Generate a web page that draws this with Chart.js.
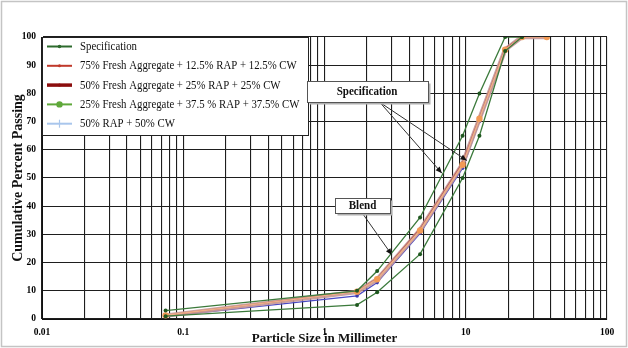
<!DOCTYPE html>
<html>
<head>
<meta charset="utf-8">
<script src="https://cdn.jsdelivr.net/npm/chart.js"></script>
<style>
  html, body { margin: 0; padding: 0; background: #fff; }
  canvas { display: block; }
</style>
</head>
<body>
<canvas id="grafico" width="628" height="348"></canvas>
<script>
// =============================================
// Gradation chart – blends vs specification
// =============================================

// sieve sizes (mm)
const peneiras = [0.075, 1.7, 2.36, 4.75, 9.5, 12.5, 19, 25, 37.5];
const peneirasSpec = [0.075, 1.7, 2.36, 4.75, 9.5, 12.5, 19, 25];

// specification band (% passing)
const specSuperior = [3, 10, 17, 36, 65, 80, 100, 100];
const specInferior = [1, 5, 9.5, 23, 50, 65, 95, 100];

// blends (% passing)
const blend75 = [1.3, 9.8, 14.4, 32, 55.5, 71.5, 96, 100, 100];
const blend50 = [1.2, 9.6, 14.0, 31.6, 55, 71, 95.5, 100, 100];
const blend25 = [1.3, 9.7, 14.1, 31.4, 54.7, 71, 95.5, 100, 100];
const blendRap = [0.9, 8.2, 12.9, 30.4, 53.5, 70, 95, 100, 100];

const seriesNomes = [
  'Specification',
  '75% Fresh Aggregate + 12.5% RAP + 12.5% CW',
  '50% Fresh Aggregate + 25% RAP + 25% CW',
  '25% Fresh Aggregate + 37.5 % RAP + 37.5% CW',
  '50% RAP + 50% CW'
];

// axis labels
const decadas = [0.01, 0.1, 1, 10, 100];
const ticksY = [0, 10, 20, 30, 40, 50, 60, 70, 80, 90, 100];

const FONTE = "'Liberation Serif', 'Times New Roman', serif";

const pontos = (xs, ys) => ys.map((v, i) => ({ x: xs[i], y: v }));

// grid lines 1..9 per decade
const ticksLog = [];
decadas.slice(0, -1).forEach(d => {
  for (let m = 1; m <= 9; m++) ticksLog.push(m * d);
});
ticksLog.push(decadas[decadas.length - 1]);

const ehDecada = (v) => decadas.some(d => Math.abs(d - v) < d * 1e-6);

// fundo branco + moldura cinza
const fundoPlugin = {
  id: 'fundo',
  beforeDraw(chart) {
    const { ctx, width, height } = chart;
    ctx.save();
    ctx.fillStyle = '#fff';
    ctx.fillRect(0, 0, width, height);
    ctx.strokeStyle = '#c4c4c4';
    ctx.lineWidth = 1.5;
    ctx.strokeRect(1.5, 1.5, width - 3, height - 3);
    ctx.restore();
  }
};

function textoEstreito(ctx, txt, x, y, escala) {
  ctx.save();
  ctx.translate(x, y);
  ctx.scale(escala, 1);
  ctx.fillText(txt, 0, 0);
  ctx.restore();
}

// legend drawn inside the plot, over the grid
const legendaItens = [
  { cor: '#2d6a2d', largura: 2, marcador: 'ponto', r: 1.8 },
  { cor: '#c0392b', largura: 2, marcador: 'ponto', r: 1.5 },
  { cor: '#8b0d0d', largura: 3.5, marcador: 'ponto', r: 1.5 },
  { cor: '#5fa83a', largura: 2, marcador: 'ponto', r: 3.2 },
  { cor: '#a9c6ec', largura: 2, marcador: 'cruz', r: 4 }
];

const legendaPlugin = {
  id: 'legendaInterna',
  afterDatasetsDraw(chart) {
    const { ctx, chartArea } = chart;
    const x0 = chartArea.left, y0 = chartArea.top;
    ctx.save();
    ctx.fillStyle = '#fff';
    ctx.fillRect(x0, y0, 266, 98);
    ctx.strokeStyle = '#222';
    ctx.lineWidth = 1;
    ctx.strokeRect(x0 + 0.5, y0 + 0.5, 266, 98);
    legendaItens.forEach((it, i) => {
      const y = y0 + 9.5 + i * 19.3;
      ctx.strokeStyle = it.cor;
      ctx.lineWidth = it.largura;
      ctx.beginPath();
      ctx.moveTo(x0 + 5, y);
      ctx.lineTo(x0 + 30, y);
      ctx.stroke();
      ctx.fillStyle = it.cor;
      if (it.marcador === 'cruz') {
        ctx.lineWidth = 1.2;
        ctx.beginPath();
        ctx.moveTo(x0 + 17.5, y - it.r);
        ctx.lineTo(x0 + 17.5, y + it.r);
        ctx.stroke();
      } else {
        ctx.beginPath();
        ctx.arc(x0 + 17.5, y, it.r, 0, Math.PI * 2);
        ctx.fill();
      }
      ctx.fillStyle = '#111';
      ctx.font = `13.5px ${FONTE}`;
      ctx.textBaseline = 'middle';
      ctx.textAlign = 'left';
      textoEstreito(ctx, seriesNomes[i], x0 + 38, y, 0.8);
    });
    ctx.restore();
  }
};

// annotation boxes with arrows (positions in data units)
const anotacoes = [
  { texto: 'Specification', x: 2.0, y: 80.8, w: 121, h: 21, saida: 13, setas: [[6.78, 51.7], [10.18, 56.2]] },
  { texto: 'Blend', x: 1.86, y: 40.2, w: 55, h: 15, saida: 0, setas: [[3.0, 22.7]] }
];

function seta(ctx, x1, y1, x2, y2) {
  ctx.beginPath();
  ctx.moveTo(x1, y1);
  ctx.lineTo(x2, y2);
  ctx.stroke();
  const ang = Math.atan2(y2 - y1, x2 - x1);
  ctx.beginPath();
  ctx.moveTo(x2, y2);
  ctx.lineTo(x2 - 7 * Math.cos(ang - 0.4), y2 - 7 * Math.sin(ang - 0.4));
  ctx.lineTo(x2 - 7 * Math.cos(ang + 0.4), y2 - 7 * Math.sin(ang + 0.4));
  ctx.closePath();
  ctx.fill();
}

const anotacaoPlugin = {
  id: 'anotacoes',
  afterDatasetsDraw(chart) {
    const { ctx, scales: { x, y } } = chart;
    ctx.save();
    anotacoes.forEach(a => {
      const cx = x.getPixelForValue(a.x);
      const cy = y.getPixelForValue(a.y);
      const bx = Math.round(cx - a.w / 2) + 0.5, by = Math.round(cy - a.h / 2) + 0.5;
      ctx.strokeStyle = '#333';
      ctx.fillStyle = '#111';
      ctx.lineWidth = 1;
      a.setas.forEach(([sx, sy]) => {
        seta(ctx, cx + a.saida, by + a.h, x.getPixelForValue(sx), y.getPixelForValue(sy));
      });
      ctx.fillStyle = '#b0b0b0';
      ctx.fillRect(bx + 2, by + 2, a.w, a.h);
      ctx.fillStyle = '#fff';
      ctx.fillRect(bx, by, a.w, a.h);
      ctx.strokeStyle = '#555';
      ctx.strokeRect(bx, by, a.w, a.h);
      ctx.fillStyle = '#111';
      ctx.font = `bold 13px ${FONTE}`;
      ctx.textAlign = 'center';
      ctx.textBaseline = 'middle';
      textoEstreito(ctx, a.texto, cx, cy + 0.5, 0.85);
    });
    ctx.restore();
  }
};

const fonteTick = { family: FONTE, size: 9.5, weight: 'bold' };
const grade = { color: '#1e1e1e', lineWidth: 1.1, drawTicks: false };

new Chart(document.getElementById('grafico'), {
  type: 'line',
  data: {
    datasets: [
      {
        label: seriesNomes[0],
        data: pontos(peneirasSpec, specSuperior),
        borderColor: '#3b7a3b',
        borderWidth: 1.3,
        pointRadius: 2,
        pointBackgroundColor: '#1f571f',
        pointBorderWidth: 0,
        order: 0
      },
      {
        label: seriesNomes[0] + ' (lower)',
        data: pontos(peneirasSpec, specInferior),
        borderColor: '#3b7a3b',
        borderWidth: 1.3,
        pointRadius: 2,
        pointBackgroundColor: '#1f571f',
        pointBorderWidth: 0,
        order: 0
      },
      {
        label: seriesNomes[1],
        data: pontos(peneiras, blend75),
        borderColor: '#b86060',
        borderWidth: 1.2,
        pointRadius: 1.5,
        pointBackgroundColor: '#b86060',
        pointBorderWidth: 0,
        order: 2
      },
      {
        label: seriesNomes[2],
        data: pontos(peneiras, blend50),
        borderColor: 'rgba(196,150,150,0.9)',
        borderWidth: 4.5,
        pointRadius: 0,
        order: 3
      },
      {
        label: seriesNomes[3],
        data: pontos(peneiras, blend25),
        borderColor: '#eeb088',
        borderWidth: 1.5,
        pointRadius: 3.2,
        pointBackgroundColor: '#f29a55',
        pointBorderWidth: 0,
        order: 1
      },
      {
        label: seriesNomes[4],
        data: pontos(peneiras, blendRap),
        borderColor: '#4a4ac4',
        borderWidth: 1.2,
        pointRadius: 1.8,
        pointBackgroundColor: '#3a3ab0',
        pointBorderWidth: 0,
        order: 4
      }
    ]
  },
  options: {
    responsive: false,
    animation: false,
    layout: { padding: { left: 0, right: 21, top: 37, bottom: 2 } },
    plugins: {
      legend: { display: false },
      tooltip: { enabled: false }
    },
    scales: {
      x: {
        type: 'logarithmic',
        min: decadas[0],
        max: decadas[decadas.length - 1],
        afterBuildTicks: (s) => { s.ticks = ticksLog.map(v => ({ value: v })); },
        afterFit: (s) => { s.height = 27; },
        ticks: {
          autoSkip: false,
          maxRotation: 0,
          padding: 8,
          color: '#000',
          font: fonteTick,
          callback: (v) => ehDecada(v) ? String(decadas.find(d => Math.abs(d - v) < d * 1e-6)) : ''
        },
        grid: grade,
        border: { color: '#111', width: 1 },
        title: {
          display: true,
          text: 'Particle Size in Millimeter',
          color: '#111',
          font: { family: FONTE, size: 13, weight: 'bold' },
          padding: { top: 0, bottom: 0 }
        }
      },
      y: {
        min: ticksY[0],
        max: ticksY[ticksY.length - 1],
        afterFit: (s) => { s.width = 42; },
        ticks: {
          stepSize: 5,
          padding: 6,
          color: '#000',
          font: fonteTick,
          callback: (v) => ticksY.includes(v) ? v : ''
        },
        grid: grade,
        border: { color: '#111', width: 1 },
        title: {
          display: true,
          text: 'Cumulative Percent Passing',
          color: '#111',
          font: { family: FONTE, size: 14, weight: 'bold' },
          padding: { top: 10, bottom: 0 }
        }
      }
    }
  },
  plugins: [fundoPlugin, legendaPlugin, anotacaoPlugin]
});
</script>
</body>
</html>
